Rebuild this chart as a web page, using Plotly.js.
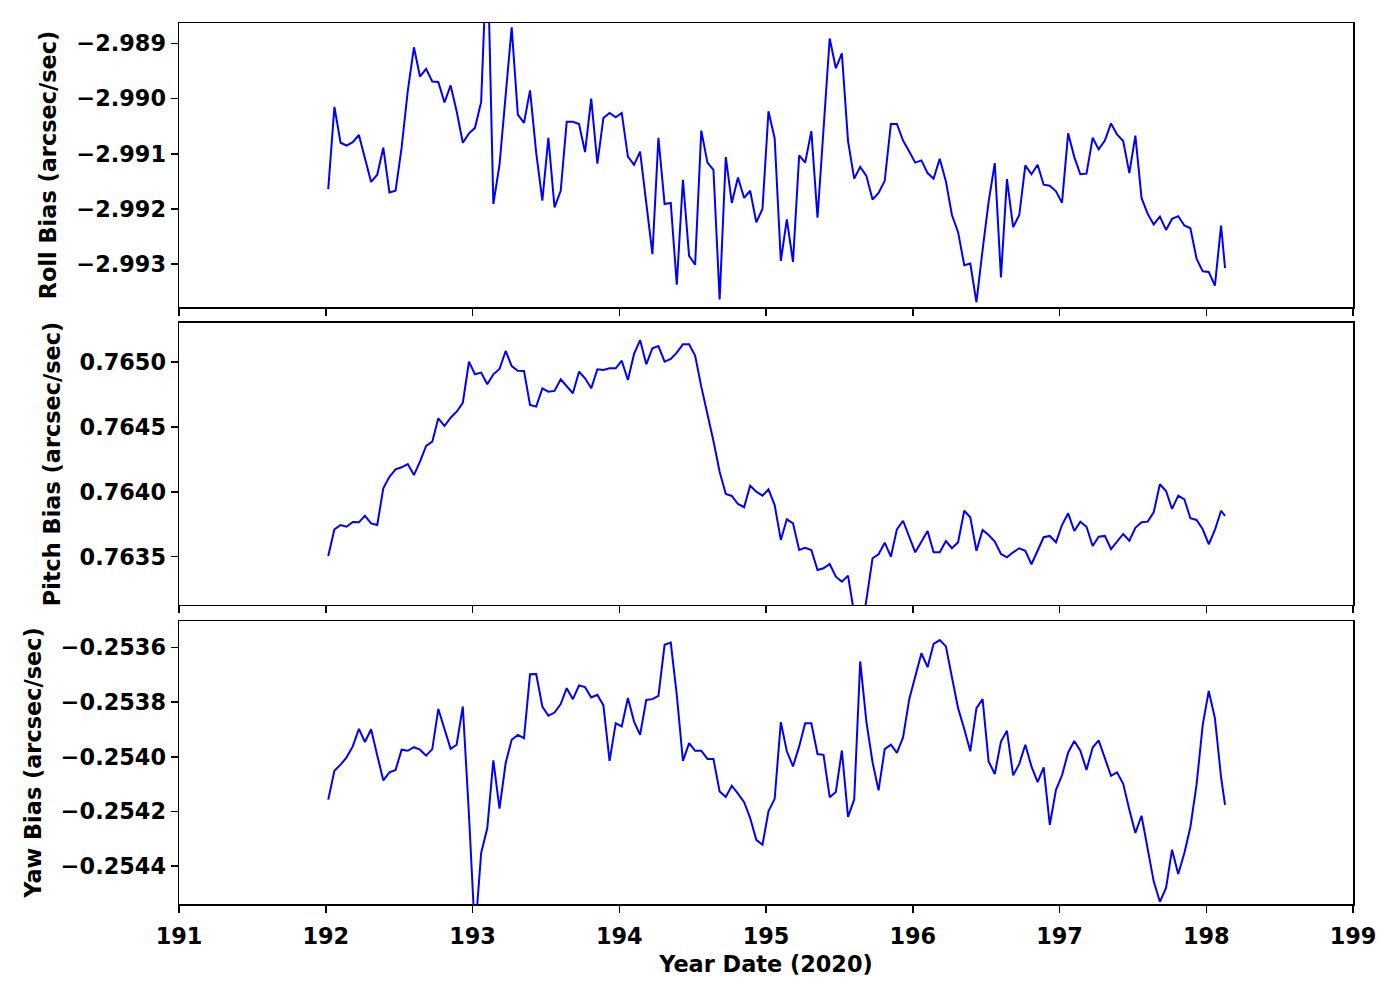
<!DOCTYPE html>
<html>
<head>
<meta charset="utf-8">
<script src="https://cdn.plot.ly/plotly-3.0.1.min.js"></script>
<style>html,body{margin:0;padding:0;background:#fff;}#chart{width:1400px;height:1000px;}</style>
</head>
<body>
<div id="chart"></div>
<script>
// Year date (2020), hourly samples
const yearDate = [
 192.017,192.059,192.101,192.142,192.184,192.226,192.267,192.309,192.351,192.392,192.434,192.476,
 192.517,192.559,192.601,192.642,192.684,192.726,192.767,192.809,192.851,192.892,192.934,192.976,
 193.017,193.059,193.101,193.142,193.184,193.226,193.267,193.309,193.351,193.392,193.434,193.476,
 193.517,193.559,193.601,193.642,193.684,193.726,193.767,193.809,193.851,193.892,193.934,193.976,
 194.017,194.059,194.101,194.142,194.184,194.226,194.267,194.309,194.351,194.392,194.434,194.476,
 194.517,194.559,194.601,194.642,194.684,194.726,194.767,194.809,194.851,194.892,194.934,194.976,
 195.017,195.059,195.101,195.142,195.184,195.226,195.267,195.309,195.351,195.392,195.434,195.476,
 195.517,195.559,195.601,195.642,195.684,195.726,195.767,195.809,195.851,195.892,195.934,195.976,
 196.017,196.059,196.101,196.142,196.184,196.226,196.267,196.309,196.351,196.392,196.434,196.476,
 196.517,196.559,196.601,196.642,196.684,196.726,196.767,196.809,196.851,196.892,196.934,196.976,
 197.017,197.059,197.101,197.142,197.184,197.226,197.267,197.309,197.351,197.392,197.434,197.476,
 197.517,197.559,197.601,197.642,197.684,197.726,197.767,197.809,197.851,197.892,197.934,197.976,
 198.017,198.059,198.101,198.128
];

const rollBias = [
 -2.99164,-2.99015,-2.99080,-2.99085,-2.99079,-2.99066,-2.99108,-2.99151,-2.99138,-2.99089,-2.99170,-2.99167,
 -2.99089,-2.98986,-2.98907,-2.98960,-2.98946,-2.98969,-2.98970,-2.99007,-2.98976,-2.99023,-2.99080,-2.99063,
 -2.99053,-2.99006,-2.98716,-2.99191,-2.99120,-2.98986,-2.98871,-2.99029,-2.99044,-2.98985,-2.99098,-2.99185,
 -2.99071,-2.99197,-2.99167,-2.99042,-2.99042,-2.99046,-2.99097,-2.99000,-2.99118,-2.99035,-2.99026,-2.99034,
 -2.99026,-2.99105,-2.99120,-2.99096,-2.99186,-2.99282,-2.99071,-2.99191,-2.99189,-2.99337,-2.99147,-2.99285,
 -2.99301,-2.99058,-2.99116,-2.99129,-2.99364,-2.99106,-2.99189,-2.99143,-2.99180,-2.99167,-2.99224,-2.99200,
 -2.99023,-2.99072,-2.99294,-2.99219,-2.99296,-2.99103,-2.99116,-2.99059,-2.99216,-2.99053,-2.98891,-2.98945,
 -2.98918,-2.99077,-2.99145,-2.99124,-2.99140,-2.99183,-2.99171,-2.99149,-2.99046,-2.99046,-2.99076,-2.99096,
 -2.99116,-2.99112,-2.99135,-2.99145,-2.99109,-2.99150,-2.99211,-2.99242,-2.99302,-2.99299,-2.99369,-2.99274,
 -2.99187,-2.99117,-2.99324,-2.99146,-2.99233,-2.99211,-2.99121,-2.99137,-2.99120,-2.99156,-2.99158,-2.99168,
 -2.99189,-2.99063,-2.99106,-2.99137,-2.99136,-2.99071,-2.99092,-2.99076,-2.99045,-2.99065,-2.99077,-2.99135,
 -2.99067,-2.99180,-2.99209,-2.99228,-2.99214,-2.99238,-2.99218,-2.99213,-2.99230,-2.99235,-2.99290,-2.99313,
 -2.99314,-2.99339,-2.99230,-2.99307
];

const pitchBias = [
 0.763505,0.763711,0.763744,0.763731,0.763767,0.763765,0.763816,0.763757,0.763744,0.764027,0.764116,0.764173,
 0.764189,0.764214,0.764129,0.764232,0.764353,0.764386,0.764566,0.764507,0.764571,0.764617,0.764686,0.765002,
 0.764905,0.764918,0.764828,0.764905,0.764946,0.765085,0.764969,0.764933,0.764931,0.764669,0.764656,0.764797,
 0.764771,0.764777,0.764867,0.764815,0.764759,0.764925,0.764874,0.764797,0.764944,0.764938,0.764951,0.764951,
 0.765010,0.764861,0.765062,0.765169,0.764982,0.765106,0.765123,0.765002,0.765023,0.765072,0.765136,0.765136,
 0.765049,0.764810,0.764605,0.764391,0.764155,0.763983,0.763968,0.763906,0.763881,0.764047,0.764001,0.763970,
 0.764019,0.763898,0.763629,0.763788,0.763757,0.763552,0.763569,0.763552,0.763398,0.763411,0.763444,0.763346,
 0.763307,0.763354,0.763059,0.762884,0.763166,0.763488,0.763519,0.763608,0.763500,0.763711,0.763777,0.763660,
 0.763534,0.763616,0.763698,0.763534,0.763534,0.763621,0.763565,0.763611,0.763854,0.763804,0.763546,0.763706,
 0.763667,0.763616,0.763521,0.763495,0.763534,0.763565,0.763546,0.763442,0.763546,0.763650,0.763660,0.763611,
 0.763744,0.763834,0.763698,0.763770,0.763731,0.763582,0.763654,0.763660,0.763559,0.763616,0.763675,0.763623,
 0.763723,0.763765,0.763770,0.763842,0.764058,0.764006,0.763868,0.763970,0.763942,0.763796,0.763783,0.763711,
 0.763596,0.763706,0.763854,0.763814
];

const yawBias = [
 -0.254157,-0.254051,-0.254029,-0.254002,-0.253962,-0.253898,-0.253946,-0.253899,-0.253995,-0.254086,-0.254057,-0.254048,
 -0.253974,-0.253978,-0.253965,-0.253974,-0.253996,-0.253972,-0.253825,-0.253899,-0.253971,-0.253956,-0.253816,-0.254213,
 -0.254652,-0.254352,-0.254261,-0.254013,-0.254190,-0.254023,-0.253938,-0.253920,-0.253932,-0.253698,-0.253697,-0.253816,
 -0.253850,-0.253838,-0.253807,-0.253749,-0.253789,-0.253739,-0.253745,-0.253783,-0.253773,-0.253812,-0.254015,-0.253877,
 -0.253889,-0.253785,-0.253871,-0.253920,-0.253792,-0.253789,-0.253777,-0.253590,-0.253582,-0.253773,-0.254015,-0.253950,
 -0.253978,-0.253978,-0.254008,-0.254008,-0.254127,-0.254147,-0.254106,-0.254135,-0.254166,-0.254224,-0.254304,-0.254322,
 -0.254200,-0.254154,-0.253873,-0.253980,-0.254035,-0.253962,-0.253877,-0.253877,-0.253990,-0.253993,-0.254148,-0.254129,
 -0.253977,-0.254220,-0.254157,-0.253651,-0.253871,-0.254020,-0.254123,-0.253972,-0.253956,-0.253986,-0.253929,-0.253789,
 -0.253706,-0.253621,-0.253672,-0.253587,-0.253573,-0.253596,-0.253709,-0.253822,-0.253898,-0.253980,-0.253822,-0.253789,
 -0.254017,-0.254063,-0.253944,-0.253905,-0.254068,-0.254026,-0.253956,-0.254035,-0.254093,-0.254039,-0.254249,-0.254121,
 -0.254068,-0.253984,-0.253942,-0.253978,-0.254048,-0.253966,-0.253940,-0.254008,-0.254070,-0.254057,-0.254099,-0.254194,
 -0.254279,-0.254216,-0.254340,-0.254456,-0.254531,-0.254480,-0.254340,-0.254429,-0.254352,-0.254257,-0.254102,-0.253883,
 -0.253759,-0.253859,-0.254075,-0.254176
];

const xTicks = [191,192,193,194,195,196,197,198,199];
const rollTicks = [-2.989,-2.990,-2.991,-2.992,-2.993];
const pitchTicks = [0.7650,0.7645,0.7640,0.7635];
const yawTicks = [-0.2536,-0.2538,-0.2540,-0.2542,-0.2544];

const FONT = {family:'DejaVu Sans, Liberation Sans, sans-serif', size:22.4, color:'#000', weight:'bold'};
const lineStyle = {color:'#0000ff', width:2};

const traces = [
  {x:yearDate, y:rollBias, xaxis:'x', yaxis:'y', type:'scatter', mode:'lines', line:lineStyle, name:'Roll'},
  {x:yearDate, y:pitchBias, xaxis:'x2', yaxis:'y2', type:'scatter', mode:'lines', line:lineStyle, name:'Pitch'},
  {x:yearDate, y:yawBias, xaxis:'x3', yaxis:'y3', type:'scatter', mode:'lines', line:lineStyle, name:'Yaw'}
];

function xAx(anchor, labels, title){
  const a = {
    anchor:anchor, range:[191,199], tickmode:'array', tickvals:xTicks,
    ticktext:xTicks.map(String), showticklabels:labels,
    showgrid:false, zeroline:false, showline:true, mirror:true,
    linecolor:'#000', linewidth:1.5, ticks:'outside', ticklen:7, tickwidth:1.5, tickcolor:'#000',
    tickfont:FONT, ticklabelstandoff:5
  };
  if(title) a.title = {text:title, font:FONT, standoff:8};
  return a;
}
function yAx(anchor, domain, range, ticks, fmt, title){
  return {
    anchor:anchor, domain:domain, range:range, tickmode:'array', tickvals:ticks,
    ticktext:ticks.map(v=>(v<0?'\u2212':'')+Math.abs(v).toFixed(fmt)),
    showgrid:false, zeroline:false, showline:true, mirror:true,
    linecolor:'#000', linewidth:1.5, ticks:'outside', ticklen:7, tickwidth:1.5, tickcolor:'#000',
    tickfont:FONT, title:{text:title, font:FONT, standoff:13}
  };
}

const layout = {
  width:1400, height:1000,
  paper_bgcolor:'#fff', plot_bgcolor:'#fff',
  font:FONT, showlegend:false,
  margin:{l:179, r:47, t:23, b:96},
  xaxis: xAx('y', false),
  xaxis2: xAx('y2', false),
  xaxis3: xAx('y3', true, 'Year Date (2020)'),
  yaxis: yAx('x', [0.6776,1], [-2.993777,-2.98863], rollTicks, 3, 'Roll Bias (arcsec/sec)'),
  yaxis2: yAx('x2', [0.3394,0.6595], [0.763128,0.7653005], pitchTicks, 4, 'Pitch Bias (arcsec/sec)'),
  yaxis3: yAx('x3', [0,0.3212], [-0.254539,-0.253503], yawTicks, 4, 'Yaw Bias (arcsec/sec)')
};

Plotly.newPlot('chart', traces, layout, {staticPlot:true, displayModeBar:false});
</script>
</body>
</html>
